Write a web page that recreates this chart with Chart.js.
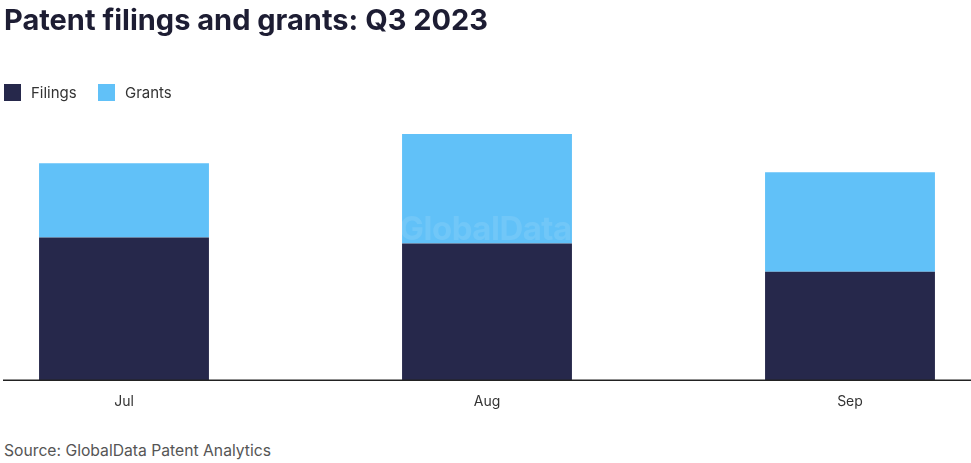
<!DOCTYPE html>
<html>
<head>
<meta charset="utf-8">
<script src="https://cdn.jsdelivr.net/npm/chart.js@4"></script>
<style>
  body { margin: 0; background: #fff; font-family: Inter, "Noto Sans", sans-serif; }
  #title { position: absolute; left: 4px; top: 2px; font-size: 29px; font-weight: 700; color: #1d1d33; }
  #legend { position: absolute; left: 4px; top: 83px; font-size: 15px; color: #333; }
  #legend span.sw { display: inline-block; width: 17px; height: 17px; vertical-align: -3px; margin-right: 10px; }
  #legend span.it { margin-right: 17px; }
  #wrap { position: absolute; left: 0; top: 0; width: 971px; height: 415px; }
  #wm { position: absolute; left: 0; width: 971px; top: 208px; text-align: center; font-size: 33px; font-weight: 700; color: rgba(255,255,255,0.1); letter-spacing: -0.5px; }
  #source { position: absolute; left: 4px; top: 441px; font-size: 15.7px; color: #555; }
</style>
</head>
<body>
<div id="wrap"><canvas id="chart"></canvas></div>
<div id="wm">GlobalData</div>
<div id="title">Patent filings and grants: Q3 2023</div>
<div id="legend">
  <span class="sw" style="background:#26284b"></span><span class="it">Filings</span>
  <span class="sw" style="background:#61c1f8"></span><span class="it">Grants</span>
</div>
<div id="source">Source: GlobalData Patent Analytics</div>
<script>
const months = ['Jul', 'Aug', 'Sep'];
const filings = [142, 136, 108];
const grants = [74, 109, 99];

const navy = '#26284b';
const sky = '#61c1f8';

// baseline runs across the full width, past the first and last bars
const baseline = {
    id: 'baseline',
    afterDatasetsDraw(chart) {
        const ctx = chart.ctx;
        const y = chart.scales.y.getPixelForValue(0);
        ctx.save();
        ctx.strokeStyle = '#222';
        ctx.lineWidth = 1.5;
        ctx.beginPath();
        ctx.moveTo(3, y);
        ctx.lineTo(chart.width, y);
        ctx.stroke();
        ctx.restore();
    }
};

new Chart(document.getElementById('chart'), {
    type: 'bar',
    data: {
        labels: months,
        datasets: [
            { label: 'Filings', data: filings, backgroundColor: navy },
            { label: 'Grants', data: grants, backgroundColor: sky }
        ]
    },
    options: {
        responsive: true,
        maintainAspectRatio: false,
        animation: false,
        layout: { padding: { top: 119, left: 124, right: 121 } },
        datasets: { bar: { barPercentage: 0.468, categoryPercentage: 1, clip: false } },
        plugins: { legend: { display: false }, tooltip: { enabled: false } },
        scales: {
            x: {
                stacked: true,
                offset: false,
                grid: { display: false },
                border: { display: false },
                ticks: { color: '#333', font: { family: 'Inter', size: 14 }, padding: 5, maxRotation: 0 }
            },
            y: {
                stacked: true,
                display: false,
                min: 0,
                max: 260
            }
        }
    },
    plugins: [baseline]
});
</script>
</body>
</html>
